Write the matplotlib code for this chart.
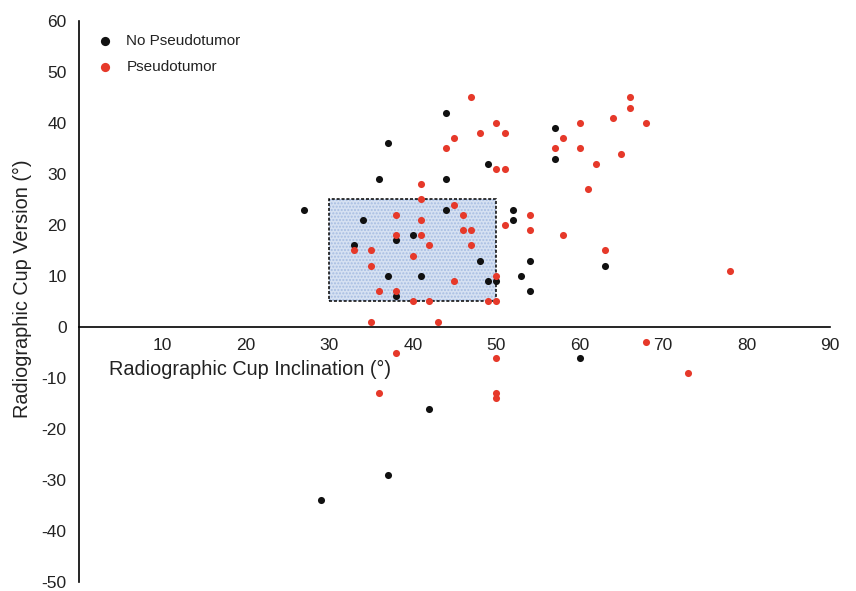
import matplotlib
matplotlib.use("Agg")
import matplotlib.pyplot as plt
from matplotlib.patches import Rectangle

plt.rcParams['font.family'] = ['Liberation Sans', 'DejaVu Sans']
plt.rcParams['axes.unicode_minus'] = False

# cup inclination / version
no_pt_incl = [27, 33, 34, 37, 36, 37, 38, 38, 40, 41, 44, 44, 44, 48, 49, 49, 50,
              52, 52, 53, 54, 54, 57, 57, 63, 60, 42, 37, 29]
no_pt_vers = [23, 16, 21, 36, 29, 10, 17, 6, 18, 10, 42, 29, 23, 13, 32, 9, 9,
              23, 21, 10, 13, 7, 39, 33, 12, -6, -16, -29, -34]

pt_incl = [47, 50, 48, 51, 45, 44, 50, 51, 41, 41, 45, 38, 46, 41, 38, 41, 46, 47,
           42, 47, 33, 35, 40, 35, 45, 50, 36, 38, 40, 42, 49, 50, 35, 43, 51, 54,
           54, 58, 58, 57, 66, 66, 64, 68, 60, 60, 65, 62, 61, 63, 78, 38, 50, 68,
           73, 36, 50, 50]
pt_vers = [45, 40, 38, 38, 37, 35, 31, 31, 28, 25, 24, 22, 22, 21, 18, 18, 19, 19,
           16, 16, 15, 15, 14, 12, 9, 10, 7, 7, 5, 5, 5, 5, 1, 1, 20, 22,
           19, 18, 37, 35, 45, 43, 41, 40, 40, 35, 34, 32, 27, 15, 11, -5, -6, -3,
           -9, -13, -13, -14]

# target zone
zone_x = [30, 50]
zone_y = [5, 25]

black = '#111111'
red = '#e6392a'

fig = plt.figure(figsize=(8.56, 5.91), dpi=100)
ax = fig.add_axes([0.0923, 0.0152, 0.8773, 0.9493])

ax.add_patch(Rectangle((zone_x[0], zone_y[0]), zone_x[1] - zone_x[0], zone_y[1] - zone_y[0],
                       facecolor='#d6e1f2', edgecolor='#a7bde2', hatch='.....',
                       linewidth=0, zorder=1))
ax.add_patch(Rectangle((zone_x[0], zone_y[0]), zone_x[1] - zone_x[0], zone_y[1] - zone_y[0],
                       fill=False, edgecolor='black', linestyle=(0, (2, 1.2)),
                       linewidth=1.1, zorder=2))

ax.scatter(no_pt_incl, no_pt_vers, s=26, color=black, linewidths=0, zorder=3,
           label='No Pseudotumor')
ax.scatter(pt_incl, pt_vers, s=26, color=red, linewidths=0, zorder=3,
           label='Pseudotumor')

ax.set_xlim(0, 90)
ax.set_ylim(-50, 60)
ax.spines['top'].set_visible(False)
ax.spines['right'].set_visible(False)
ax.spines['bottom'].set_position(('data', 0))
ax.spines['left'].set_linewidth(1.2)
ax.spines['bottom'].set_linewidth(1.2)

ax.set_xticks(range(10, 91, 10))
ax.set_yticks(range(-50, 61, 10))
ax.tick_params(axis='both', length=0, labelsize=12.5, colors='#222222')
ax.tick_params(axis='x', pad=8)
ax.tick_params(axis='y', pad=9)

ax.text(20.5, -8.3, 'Radiographic Cup Inclination (°)', fontsize=14.3,
        ha='center', va='center', color='#222222')
fig.text(0.026, 0.511, 'Radiographic Cup Version (°)', fontsize=14.3, rotation=90,
         ha='center', va='center', color='#222222')

leg = ax.legend(loc='upper left', bbox_to_anchor=(0.0, 0.995), frameon=False,
                fontsize=11, handletextpad=0.4, labelspacing=0.75, markerscale=1.3,
                borderaxespad=0.3)
for t in leg.get_texts():
    t.set_color('#222222')

fig.savefig('out.png', dpi=100)
